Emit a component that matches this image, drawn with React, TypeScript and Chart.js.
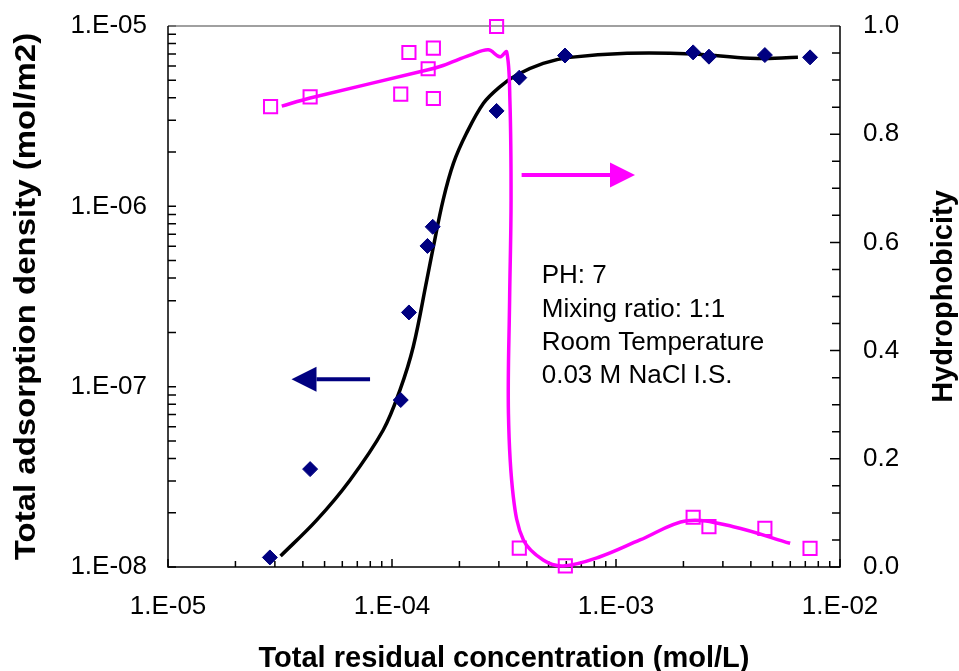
import { useEffect, useRef } from "react";
import { Chart, registerables } from "chart.js";

Chart.register(...registerables);

// ---- Data ----
const adsConc = [2.85e-5, 4.31e-5, 1.094e-4, 1.19e-4, 1.44e-4, 1.52e-4, 2.93e-4, 3.7e-4, 5.92e-4, 2.21e-3, 2.6e-3, 4.62e-3, 7.35e-3];
const adsDensity = [1.13e-8, 3.49e-8, 8.43e-8, 2.58e-7, 6.03e-7, 7.7e-7, 3.38e-6, 5.17e-6, 6.86e-6, 7.14e-6, 6.76e-6, 6.9e-6, 6.7e-6];

const hydConc = [2.87e-5, 4.31e-5, 1.094e-4, 1.19e-4, 1.45e-4, 1.53e-4, 1.53e-4, 2.93e-4, 3.7e-4, 5.94e-4, 2.21e-3, 2.6e-3, 4.62e-3, 7.35e-3];
const hydValue = [0.851, 0.869, 0.874, 0.951, 0.921, 0.959, 0.866, 0.999, 0.035, 0.002, 0.092, 0.0745, 0.0715, 0.0345];

const fitAdsConc = [3.18e-5, 4.61e-5, 6.49e-5, 9.14e-5, 1.086e-4, 1.245e-4, 1.43e-4, 1.53e-4, 1.69e-4, 1.88e-4, 2.15e-4, 2.56e-4, 3.03e-4, 3.6e-4, 4.73e-4, 6.23e-4, 1.12e-3, 2.21e-3, 3.96e-3, 6.49e-3];
const fitAdsDensity = [1.15e-8, 1.82e-8, 3.03e-8, 5.75e-8, 9.6e-8, 1.67e-7, 3.9e-7, 5.97e-7, 1.08e-6, 1.73e-6, 2.54e-6, 3.73e-6, 4.6e-6, 5.35e-6, 6.21e-6, 6.7e-6, 7.06e-6, 7.0e-6, 6.62e-6, 6.7e-6];

const fitHydConc = [3.22e-5, 4.31e-5, 1.45e-4, 1.69e-4, 2.23e-4, 2.69e-4, 3.03e-4, 3.25e-4, 3.36e-4, 3.4e-4, 3.35e-4, 3.31e-4, 3.48e-4, 3.86e-4, 4.73e-4, 5.82e-4, 8.49e-4, 1.28e-3, 2.07e-3, 3.34e-3, 5.99e-3];
const fitHydValue = [0.852, 0.867, 0.919, 0.927, 0.946, 0.956, 0.943, 0.952, 0.863, 0.678, 0.494, 0.284, 0.13, 0.05, 0.013, 0.002, 0.019, 0.05, 0.0856, 0.0745, 0.0438];

const xDecades = [-5, -4, -3, -2];
const yDecades = [-8, -7, -6, -5];
const y2TickValues = [0, 0.05, 0.1, 0.15, 0.2, 0.25, 0.3, 0.35, 0.4, 0.45, 0.5, 0.55, 0.6, 0.65, 0.7, 0.75, 0.8, 0.85, 0.9, 0.95, 1.0];

const noteLines = ["PH: 7", "Mixing ratio: 1:1", "Room Temperature", "0.03 M NaCl I.S."];
const noteAnchor = { x: 4.66e-4, y2: 0.5244 };
const hydArrow = { from: 3.79e-4, to: 1.216e-3, y2: 0.7246 };
const adsArrow = { from: 7.98e-5, to: 3.56e-5, y: 1.1e-7 };

const xTitle = "Total residual concentration (mol/L)";
const yTitle = "Total adsorption density (mol/m2)";
const y2Title = "Hydrophobicity";

const FONT = 'Arial, "Liberation Sans", Helvetica, sans-serif';
const MAGENTA = "#FF00FF";
const NAVY = "#000080";

function logTicks(decades: number[]) {
  const out: { value: number }[] = [];
  decades.forEach((d, i) => {
    const base = Math.pow(10, d);
    if (i === decades.length - 1) {
      out.push({ value: base });
    } else {
      for (let m = 1; m <= 9; m++) out.push({ value: m * base });
    }
  });
  return out;
}

function isPow10(v: number) {
  const e = Math.log10(v);
  return Math.abs(e - Math.round(e)) < 1e-6;
}

function fmtLog(v: number) {
  if (!isPow10(v)) return "";
  const r = Math.round(Math.log10(v));
  const s = Math.abs(r).toString().padStart(2, "0");
  return `1.E${r < 0 ? "-" : "+"}${s}`;
}

function drawArrow(ctx: CanvasRenderingContext2D, x0: number, x1: number, y: number, color: string) {
  const dir = Math.sign(x1 - x0);
  const headLen = 25;
  const half = 12.5;
  ctx.strokeStyle = color;
  ctx.fillStyle = color;
  ctx.lineWidth = 4;
  ctx.beginPath();
  ctx.moveTo(x0, y);
  ctx.lineTo(x1 - dir * headLen, y);
  ctx.stroke();
  ctx.beginPath();
  ctx.moveTo(x1, y);
  ctx.lineTo(x1 - dir * headLen, y - half);
  ctx.lineTo(x1 - dir * headLen, y + half);
  ctx.closePath();
  ctx.fill();
}

const framePlugin = {
  id: "frameAndNotes",
  beforeDatasetsDraw(chart: any) {
    const { ctx, chartArea: a, scales } = chart;
    ctx.save();
    ctx.lineWidth = 1.5;
    ctx.strokeStyle = "#000";
    ctx.beginPath();
    scales.x.ticks.forEach((t: any) => {
      const px = scales.x.getPixelForValue(t.value);
      const len = isPow10(t.value) ? 8 : 6;
      ctx.moveTo(px, a.bottom);
      ctx.lineTo(px, a.bottom - len);
    });
    scales.y.ticks.forEach((t: any) => {
      const py = scales.y.getPixelForValue(t.value);
      ctx.moveTo(a.left, py);
      ctx.lineTo(a.left + 8, py);
    });
    scales.y2.ticks.forEach((t: any) => {
      const py = scales.y2.getPixelForValue(t.value);
      const major = Math.round(t.value * 100) % 20 === 0;
      ctx.moveTo(a.right, py);
      ctx.lineTo(a.right - (major ? 10 : 8), py);
    });
    ctx.stroke();
    // frame
    ctx.strokeStyle = "#808080";
    ctx.lineWidth = 1.5;
    ctx.beginPath();
    ctx.moveTo(a.left, a.top);
    ctx.lineTo(a.right, a.top);
    ctx.stroke();
    ctx.strokeStyle = "#000";
    ctx.lineWidth = 1.5;
    ctx.beginPath();
    ctx.moveTo(a.left, a.top);
    ctx.lineTo(a.left, a.bottom);
    ctx.lineTo(a.right, a.bottom);
    ctx.lineTo(a.right, a.top);
    ctx.stroke();
    ctx.restore();
  },
  afterDatasetsDraw(chart: any) {
    const { ctx, chartArea: a, scales } = chart;
    ctx.save();
    // arrows
    drawArrow(
      ctx,
      scales.x.getPixelForValue(hydArrow.from),
      scales.x.getPixelForValue(hydArrow.to),
      scales.y2.getPixelForValue(hydArrow.y2),
      MAGENTA
    );
    drawArrow(
      ctx,
      scales.x.getPixelForValue(adsArrow.from),
      scales.x.getPixelForValue(adsArrow.to),
      scales.y.getPixelForValue(adsArrow.y),
      NAVY
    );
    // note text
    ctx.fillStyle = "#000";
    ctx.font = `26px ${FONT}`;
    ctx.textAlign = "left";
    ctx.textBaseline = "alphabetic";
    const nx = scales.x.getPixelForValue(noteAnchor.x);
    const ny = scales.y2.getPixelForValue(noteAnchor.y2);
    noteLines.forEach((line, i) => ctx.fillText(line, nx, ny + i * 33.3));
    // axis titles
    ctx.font = `bold 29px ${FONT}`;
    ctx.textAlign = "center";
    ctx.fillText(xTitle, (a.left + a.right) / 2, 666.5);
    const cy = (a.top + a.bottom) / 2;
    ctx.save();
    ctx.translate(34.5, cy);
    ctx.rotate(-Math.PI / 2);
    ctx.scale(1.1, 1);
    ctx.font = `bold 30px ${FONT}`;
    ctx.fillText(yTitle, 0, 0);
    ctx.restore();
    ctx.save();
    ctx.translate(951.5, cy);
    ctx.rotate(-Math.PI / 2);
    ctx.font = `bold 29px ${FONT}`;
    ctx.fillText(y2Title, 0, 0);
    ctx.restore();
    ctx.restore();
  },
};

export default function App() {
  const ref = useRef<HTMLCanvasElement | null>(null);

  useEffect(() => {
    if (!ref.current) return;
    const tickFont = { size: 26, family: FONT };
    const chart = new Chart(ref.current, {
      type: "scatter",
      data: {
        datasets: [
          {
            label: "Hydrophobicity fit",
            data: fitHydConc.map((x, i) => ({ x, y: fitHydValue[i] })),
            yAxisID: "y2",
            showLine: true,
            borderColor: MAGENTA,
            borderWidth: 3.5,
            pointRadius: 0,
            tension: 0.35,
            clip: false,
            order: 1,
          },
          {
            label: "Hydrophobicity",
            data: hydConc.map((x, i) => ({ x, y: hydValue[i] })),
            yAxisID: "y2",
            showLine: false,
            pointStyle: "rect",
            pointRadius: 9.3,
            borderColor: MAGENTA,
            borderWidth: 2,
            backgroundColor: "rgba(0,0,0,0)",
            clip: false,
            order: 2,
          },
          {
            label: "Adsorption density",
            data: adsConc.map((x, i) => ({ x, y: adsDensity[i] })),
            yAxisID: "y",
            showLine: false,
            pointStyle: "rectRot",
            pointRadius: 7.5,
            borderColor: NAVY,
            borderWidth: 1,
            backgroundColor: NAVY,
            clip: false,
            order: 3,
          },
          {
            label: "Adsorption fit",
            data: fitAdsConc.map((x, i) => ({ x, y: fitAdsDensity[i] })),
            yAxisID: "y",
            showLine: true,
            borderColor: "#000",
            borderWidth: 3.5,
            pointRadius: 0,
            tension: 0.35,
            clip: false,
            order: 4,
          },
        ],
      },
      options: {
        animation: false,
        responsive: false,
        devicePixelRatio: 1,
        events: [],
        layout: { padding: { top: 26, left: 0, right: 0, bottom: 0 } },
        plugins: { legend: { display: false }, tooltip: { enabled: false } },
        scales: {
          x: {
            type: "logarithmic",
            position: "bottom",
            min: 1e-5,
            max: 1e-2,
            grid: { display: false, drawTicks: false },
            border: { display: false },
            afterBuildTicks: (s: any) => {
              s.ticks = logTicks(xDecades);
            },
            afterFit: (s: any) => {
              s.height = 104;
              s.paddingLeft = 0;
              s.paddingRight = 0;
            },
            ticks: {
              callback: (v: any) => fmtLog(Number(v)),
              autoSkip: false,
              maxRotation: 0,
              minRotation: 0,
              padding: 24,
              color: "#000",
              font: tickFont,
            },
          },
          y: {
            type: "logarithmic",
            position: "left",
            min: 1e-8,
            max: 1e-5,
            grid: { display: false, drawTicks: false },
            border: { display: false },
            afterBuildTicks: (s: any) => {
              s.ticks = logTicks(yDecades);
            },
            afterFit: (s: any) => {
              s.width = 168;
              s.paddingTop = 0;
              s.paddingBottom = 0;
            },
            ticks: {
              callback: (v: any) => fmtLog(Number(v)),
              autoSkip: false,
              padding: 21,
              color: "#000",
              font: tickFont,
            },
          },
          y2: {
            type: "linear",
            position: "right",
            min: 0,
            max: 1,
            grid: { display: false, drawTicks: false },
            border: { display: false },
            afterBuildTicks: (s: any) => {
              s.ticks = y2TickValues.map((value) => ({ value }));
            },
            afterFit: (s: any) => {
              s.width = 119;
              s.paddingTop = 0;
              s.paddingBottom = 0;
            },
            ticks: {
              callback: (v: any) => (Math.round(Number(v) * 100) % 20 === 0 ? Number(v).toFixed(1) : ""),
              autoSkip: false,
              padding: 23,
              color: "#000",
              font: tickFont,
            },
          },
        },
      },
      plugins: [framePlugin],
    } as any);
    return () => chart.destroy();
  }, []);

  return (
    <div style={{ position: "fixed", left: 0, top: 0, width: 959, height: 671, background: "#fff" }}>
      <canvas ref={ref} width={959} height={671} style={{ display: "block" }} />
    </div>
  );
}
